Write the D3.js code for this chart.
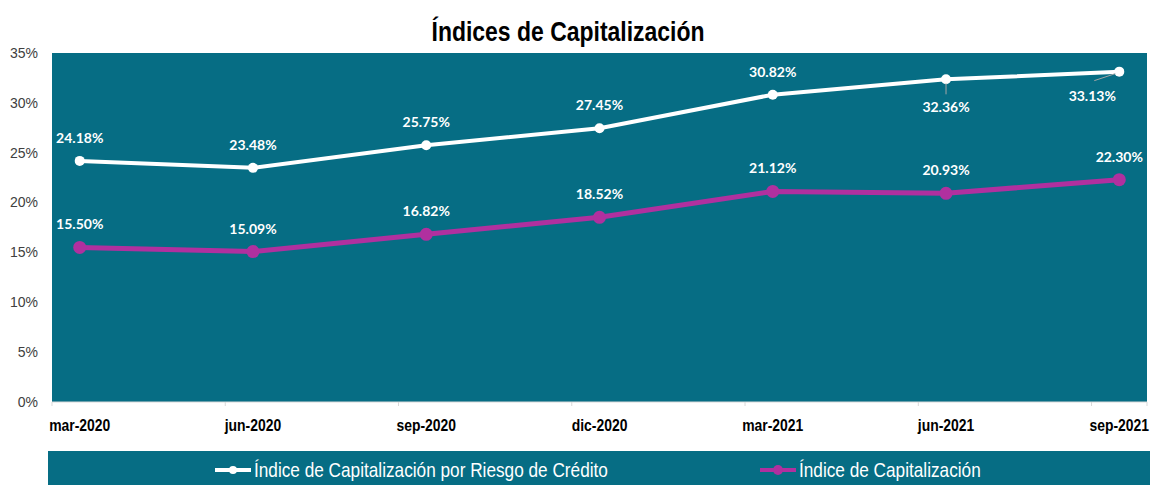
<!DOCTYPE html>
<html>
<head>
<meta charset="utf-8">
<script src="https://cdn.jsdelivr.net/npm/d3@7"></script>
<style>
  body { margin: 0; background: #fff; }
  svg { display: block; }
</style>
</head>
<body>
<div id="chart"></div>
<script>
// data
var periods = ["mar-2020", "jun-2020", "sep-2020", "dic-2020", "mar-2021", "jun-2021", "sep-2021"];
var riesgoCredito = [24.18, 23.48, 25.75, 27.45, 30.82, 32.36, 33.13];
var capitalizacion = [15.50, 15.09, 16.82, 18.52, 21.12, 20.93, 22.30];
var yTicks = [0, 5, 10, 15, 20, 25, 30, 35];
var seriesNames = ["Índice de Capitalización por Riesgo de Crédito", "Índice de Capitalización"];

var W = 1154, H = 485;
var margin = { left: 52, right: 7, top: 53, bottom: 83 };
var width = W - margin.left - margin.right,
    height = H - margin.top - margin.bottom;

var teal = "#066d84";
var sans = "'Liberation Sans', Arial, sans-serif";
var labelFont = "Lato, 'Open Sans', sans-serif";
var squeeze = 0.82;   // no narrow font installed, so squeeze Liberation Sans

var svg = d3.select("#chart")
    .append("svg")
        .attr("width", W)
        .attr("height", H);

// text drawn narrow: position via transform, then scale x
function narrowText(parent, px, py, txt){
    return parent.append("text")
        .attr("transform", "translate(" + px + "," + py + ") scale(" + squeeze + ",1)")
        .attr("font-family", sans)
        .text(txt);
}

narrowText(svg, 568, 41, "Índices de Capitalización")
    .attr("text-anchor", "middle")
    .attr("font-weight", "bold")
    .attr("font-size", "28px")
    .attr("fill", "#000");

var g = svg.append("g")
    .attr("transform", "translate(" + margin.left + "," + margin.top + ")");

var x = d3.scalePoint()
    .domain(periods)
    .range([0, width])
    .padding(0.16);

var y = d3.scaleLinear()
    .domain([0, 35])
    .range([height, 0]);

g.append("rect")
    .attr("width", width)
    .attr("height", height)
    .attr("fill", teal);

// y axis labels
g.selectAll(".ytick")
    .data(yTicks)
    .enter()
    .append("text")
        .attr("class", "ytick")
        .attr("x", -14)
        .attr("y", function(d){ return y(d); })
        .attr("dy", "0.35em")
        .attr("text-anchor", "end")
        .attr("font-family", sans)
        .attr("font-size", "14px")
        .attr("fill", "#404040")
        .text(function(d){ return d + "%"; });

// x axis
var step = x.step();
var xa = g.append("g").attr("transform", "translate(0," + height + ")");
xa.append("line")
    .attr("x1", 0).attr("x2", width)
    .attr("stroke", "#d9d9d9").attr("stroke-width", 1);
xa.selectAll(".xt")
    .data(d3.range(periods.length + 1))
    .enter()
    .append("line")
        .attr("x1", function(i){ return Math.min(i * step, width); })
        .attr("x2", function(i){ return Math.min(i * step, width); })
        .attr("y1", 0).attr("y2", 4)
        .attr("stroke", "#d9d9d9");
periods.forEach(function(d){
    narrowText(xa, x(d), 29, d)
        .attr("text-anchor", "middle")
        .attr("font-weight", "bold")
        .attr("font-size", "17px")
        .attr("fill", "#000");
});

var line = d3.line()
    .x(function(d, i){ return x(periods[i]); })
    .y(function(d){ return y(d); });

function drawSeries(values, color, lw, r){
    g.append("path")
        .datum(values)
        .attr("d", line)
        .attr("fill", "none")
        .attr("stroke", color)
        .attr("stroke-width", lw)
        .attr("stroke-linejoin", "round");
    g.selectAll(null)
        .data(values)
        .enter()
        .append("circle")
            .attr("cx", function(d, i){ return x(periods[i]); })
            .attr("cy", function(d){ return y(d); })
            .attr("r", r)
            .attr("fill", color);
}

drawSeries(riesgoCredito, "#ffffff", 4, 5);
drawSeries(capitalizacion, "#b0309f", 5, 6.5);

function labels(values, offsets){
    g.selectAll(null)
        .data(values)
        .enter()
        .append("text")
            .attr("x", function(d, i){ return x(periods[i]) + offsets[i][0]; })
            .attr("y", function(d, i){ return y(d) + offsets[i][1]; })
            .attr("text-anchor", "middle")
            .attr("font-family", labelFont)
            .attr("font-weight", "bold")
            .attr("font-size", "14px")
            .attr("fill", "#fff")
            .text(function(d){ return d.toFixed(2) + "%"; });
}

// leader lines for the two labels placed below the points
g.append("line")
    .attr("x1", x(periods[5])).attr("x2", x(periods[5]))
    .attr("y1", y(riesgoCredito[5]) + 4).attr("y2", y(riesgoCredito[5]) + 15)
    .attr("stroke", "#a6a6a6").attr("stroke-width", 1);
g.append("line")
    .attr("x1", x(periods[6]) - 25).attr("x2", x(periods[6]) - 4)
    .attr("y1", y(riesgoCredito[6]) + 9).attr("y2", y(riesgoCredito[6]) + 2)
    .attr("stroke", "#a6a6a6").attr("stroke-width", 1);

labels(riesgoCredito, [[0, -18], [0, -18], [0, -18], [0, -18], [0, -18], [0, 33], [-27, 29]]);
labels(capitalizacion, [[0, -18], [0, -18], [0, -18], [0, -18], [0, -18], [0, -18], [0, -18]]);

// legend
var leg = svg.append("g");
leg.append("rect")
    .attr("x", 48).attr("y", 451)
    .attr("width", 1102).attr("height", 34)
    .attr("fill", teal);

var legItems = [
    { name: seriesNames[0], color: "#ffffff", x: 215, r: 4 },
    { name: seriesNames[1], color: "#b0309f", x: 760, r: 5 }
];
legItems.forEach(function(d){
    leg.append("line")
        .attr("x1", d.x).attr("x2", d.x + 36)
        .attr("y1", 470).attr("y2", 470)
        .attr("stroke", d.color).attr("stroke-width", 4);
    leg.append("circle")
        .attr("cx", d.x + 18).attr("cy", 470)
        .attr("r", d.r).attr("fill", d.color);
    narrowText(leg, d.x + 39, 477, d.name)
        .attr("font-size", "21px")
        .attr("fill", "#fff");
});
</script>
</body>
</html>
